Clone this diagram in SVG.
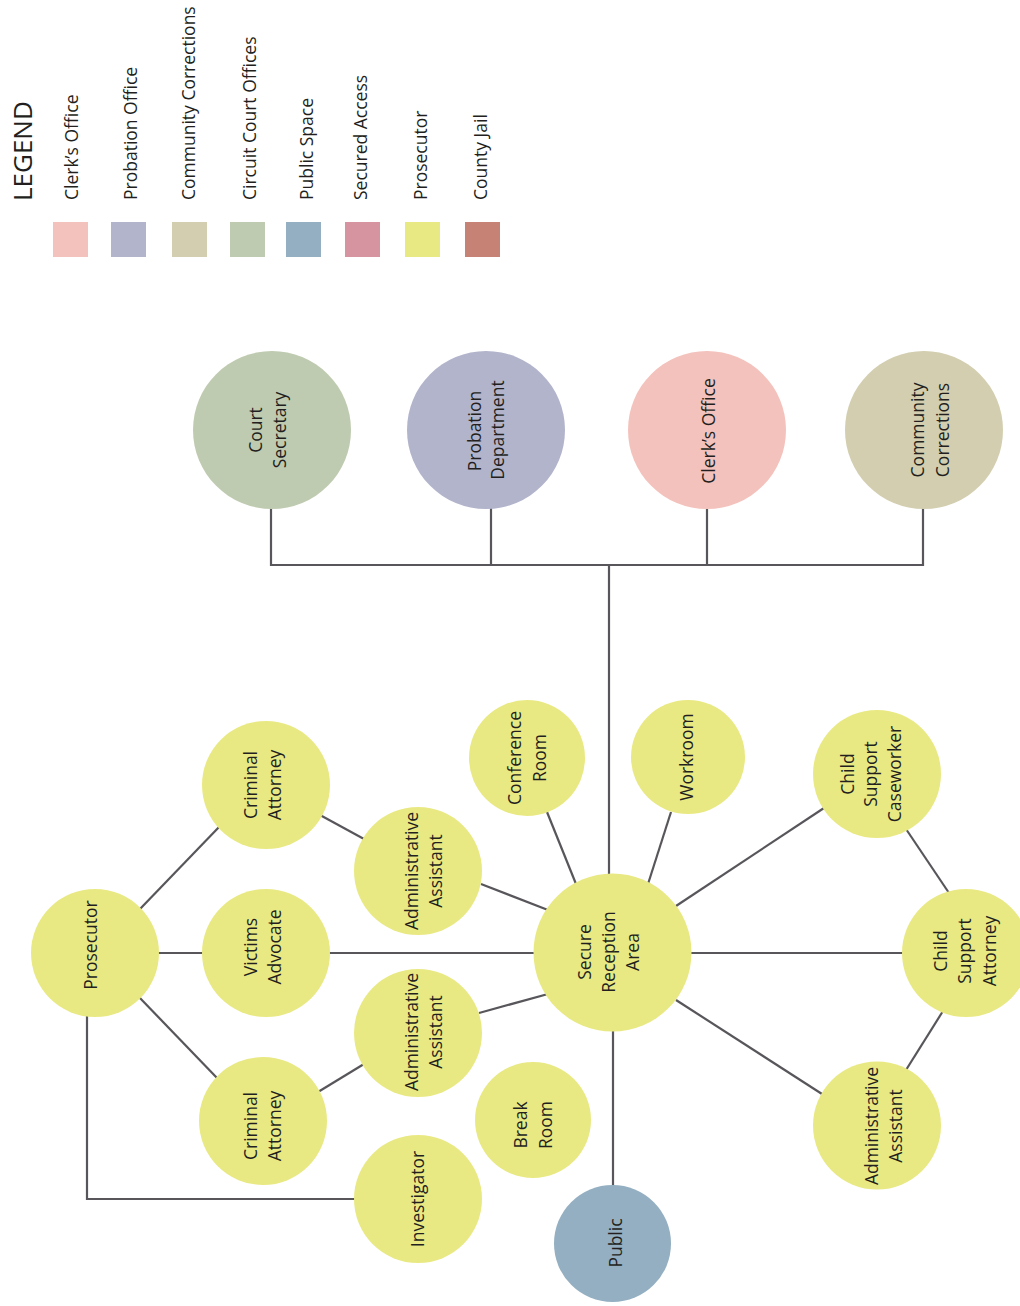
<svg xmlns="http://www.w3.org/2000/svg" width="1020" height="1306" viewBox="0 0 1020 1306">
  <style>
    text { font-family: "Open Sans", "Noto Sans", "DejaVu Sans", sans-serif; fill: #231f20; }
    .lbl { font-size: 17.5px; text-anchor: middle; }
    .key { font-size: 17.5px; text-anchor: start; }
    .title { font-size: 26px; text-anchor: start; }
    .wire { fill: none; stroke: #58565a; stroke-width: 2.2; }
    .clerk { fill: #f4c2bc; }
    .probation { fill: #b2b4cc; }
    .community { fill: #d2ceaf; }
    .circuit { fill: #bfcbb0; }
    .public { fill: #93afc1; }
    .secured { fill: #d694a0; }
    .prosecutor { fill: #e9e983; }
    .jail { fill: #c78276; }
  </style>

  <!-- Legend: vertical captions above colour swatches -->
  <g id="legend">
    <text class="title" transform="translate(32,201) rotate(-90)">LEGEND</text>
    <text class="key" transform="translate(78,200) rotate(-90)">Clerk’s Office</text>
    <text class="key" transform="translate(137,200) rotate(-90)">Probation Office</text>
    <text class="key" transform="translate(195,200) rotate(-90)">Community Corrections</text>
    <text class="key" transform="translate(256,200) rotate(-90)">Circuit Court Offices</text>
    <text class="key" transform="translate(313,200) rotate(-90)">Public Space</text>
    <text class="key" transform="translate(367,200) rotate(-90)">Secured Access</text>
    <text class="key" transform="translate(427,200) rotate(-90)">Prosecutor</text>
    <text class="key" transform="translate(487,200) rotate(-90)">County Jail</text>
    <rect class="clerk" x="53" y="222" width="35" height="35"/>
    <rect class="probation" x="111" y="222" width="35" height="35"/>
    <rect class="community" x="172" y="222" width="35" height="35"/>
    <rect class="circuit" x="230" y="222" width="35" height="35"/>
    <rect class="public" x="286" y="222" width="35" height="35"/>
    <rect class="secured" x="345" y="222" width="35" height="35"/>
    <rect class="prosecutor" x="405" y="222" width="35" height="35"/>
    <rect class="jail" x="465" y="222" width="35" height="35"/>
  </g>

  <!-- Connectors -->
  <g id="connectors">
    <path class="wire" d="M271,506 V565 H923 V506 M491,506 V565 M707,506 V565 M609,565 V876"/>
    <path class="wire" d="M613,1028 V1188"/>
    <line class="wire" x1="547" y1="812" x2="576" y2="884"/>
    <line class="wire" x1="671" y1="812" x2="648" y2="884"/>
    <line class="wire" x1="824" y1="808" x2="676" y2="906"/>
    <line class="wire" x1="690" y1="953" x2="904" y2="953"/>
    <line class="wire" x1="676" y1="1000" x2="822" y2="1094"/>
    <line class="wire" x1="906" y1="829" x2="949" y2="893"/>
    <line class="wire" x1="943" y1="1011" x2="906" y2="1070"/>
    <line class="wire" x1="328" y1="953" x2="536" y2="953"/>
    <line class="wire" x1="157" y1="953" x2="204" y2="953"/>
    <line class="wire" x1="140" y1="909" x2="220" y2="826"/>
    <line class="wire" x1="320" y1="815" x2="364" y2="839"/>
    <line class="wire" x1="481" y1="884" x2="548" y2="910"/>
    <line class="wire" x1="139" y1="997" x2="218" y2="1079"/>
    <line class="wire" x1="318" y1="1092" x2="364" y2="1064"/>
    <line class="wire" x1="479" y1="1013" x2="548" y2="994"/>
    <path class="wire" d="M87,1012 V1199 H358"/>
  </g>

  <!-- Upper row: departments -->
  <g id="court-secretary">
    <circle class="circuit" cx="272" cy="430" r="79"/>
    <text class="lbl" transform="translate(262,430) rotate(-90)">Court</text>
    <text class="lbl" transform="translate(286,430) rotate(-90)">Secretary</text>
  </g>
  <g id="probation-department">
    <circle class="probation" cx="486" cy="430" r="79"/>
    <text class="lbl" transform="translate(481,431) rotate(-90)">Probation</text>
    <text class="lbl" transform="translate(504,430) rotate(-90)">Department</text>
  </g>
  <g id="clerks-office">
    <circle class="clerk" cx="707" cy="430" r="79"/>
    <text class="lbl" transform="translate(715,431) rotate(-90)">Clerk’s Office</text>
  </g>
  <g id="community-corrections">
    <circle class="community" cx="924" cy="430" r="79"/>
    <text class="lbl" transform="translate(924,430) rotate(-90)">Community</text>
    <text class="lbl" transform="translate(949,430) rotate(-90)">Corrections</text>
  </g>

  <!-- Prosecutor wing -->
  <g id="prosecutor">
    <circle class="prosecutor" cx="95" cy="953" r="64"/>
    <text class="lbl" transform="translate(97,945) rotate(-90)">Prosecutor</text>
  </g>
  <g id="criminal-attorney-1">
    <circle class="prosecutor" cx="266" cy="785" r="64"/>
    <text class="lbl" transform="translate(257,785) rotate(-90)">Criminal</text>
    <text class="lbl" transform="translate(281,785) rotate(-90)">Attorney</text>
  </g>
  <g id="victims-advocate">
    <circle class="prosecutor" cx="266" cy="953" r="64"/>
    <text class="lbl" transform="translate(257,947) rotate(-90)">Victims</text>
    <text class="lbl" transform="translate(281,947) rotate(-90)">Advocate</text>
  </g>
  <g id="criminal-attorney-2">
    <circle class="prosecutor" cx="263" cy="1121" r="64"/>
    <text class="lbl" transform="translate(257,1126) rotate(-90)">Criminal</text>
    <text class="lbl" transform="translate(281,1126) rotate(-90)">Attorney</text>
  </g>
  <g id="administrative-assistant-1">
    <circle class="prosecutor" cx="418" cy="871" r="64"/>
    <text class="lbl" transform="translate(418,871) rotate(-90)">Administrative</text>
    <text class="lbl" transform="translate(442,871) rotate(-90)">Assistant</text>
  </g>
  <g id="administrative-assistant-2">
    <circle class="prosecutor" cx="418" cy="1033" r="64"/>
    <text class="lbl" transform="translate(418,1032) rotate(-90)">Administrative</text>
    <text class="lbl" transform="translate(442,1032) rotate(-90)">Assistant</text>
  </g>
  <g id="investigator">
    <circle class="prosecutor" cx="418" cy="1199" r="64"/>
    <text class="lbl" transform="translate(424,1199) rotate(-90)">Investigator</text>
  </g>

  <!-- Shared rooms -->
  <g id="conference-room">
    <circle class="prosecutor" cx="527" cy="758" r="58"/>
    <text class="lbl" transform="translate(521,758) rotate(-90)">Conference</text>
    <text class="lbl" transform="translate(546,758) rotate(-90)">Room</text>
  </g>
  <g id="workroom">
    <circle class="prosecutor" cx="688" cy="757" r="57"/>
    <text class="lbl" transform="translate(693,757) rotate(-90)">Workroom</text>
  </g>
  <g id="break-room">
    <circle class="prosecutor" cx="533" cy="1120" r="58"/>
    <text class="lbl" transform="translate(527,1125) rotate(-90)">Break</text>
    <text class="lbl" transform="translate(552,1125) rotate(-90)">Room</text>
  </g>
  <g id="secure-reception-area">
    <circle class="prosecutor" cx="612.5" cy="952.5" r="79"/>
    <text class="lbl" transform="translate(591,952) rotate(-90)">Secure</text>
    <text class="lbl" transform="translate(615,952) rotate(-90)">Reception</text>
    <text class="lbl" transform="translate(639,952) rotate(-90)">Area</text>
  </g>
  <g id="public">
    <circle class="public" cx="612.5" cy="1243.5" r="58.5"/>
    <text class="lbl" transform="translate(622,1243) rotate(-90)">Public</text>
  </g>

  <!-- Child support wing -->
  <g id="child-support-caseworker">
    <circle class="prosecutor" cx="877" cy="774" r="64"/>
    <text class="lbl" transform="translate(854,774) rotate(-90)">Child</text>
    <text class="lbl" transform="translate(877,774) rotate(-90)">Support</text>
    <text class="lbl" transform="translate(901,774) rotate(-90)">Caseworker</text>
  </g>
  <g id="child-support-attorney">
    <circle class="prosecutor" cx="966" cy="953" r="64"/>
    <text class="lbl" transform="translate(947,951) rotate(-90)">Child</text>
    <text class="lbl" transform="translate(971,951) rotate(-90)">Support</text>
    <text class="lbl" transform="translate(996,951) rotate(-90)">Attorney</text>
  </g>
  <g id="administrative-assistant-3">
    <circle class="prosecutor" cx="877" cy="1125.5" r="64"/>
    <text class="lbl" transform="translate(878,1126) rotate(-90)">Administrative</text>
    <text class="lbl" transform="translate(902,1126) rotate(-90)">Assistant</text>
  </g>
</svg>
